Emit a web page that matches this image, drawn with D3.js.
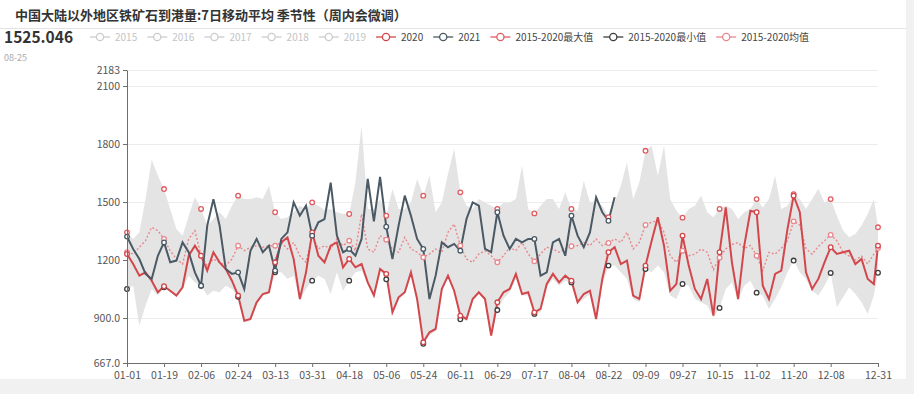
<!DOCTYPE html>
<html><head><meta charset="utf-8">
<script src="https://cdn.jsdelivr.net/npm/d3@7"></script>
<style>
body{margin:0;background:#f1f1f1;}
svg{display:block;font-family:"Noto Sans CJK SC","Noto Sans",sans-serif;}
</style></head><body>
<svg id="c" width="914" height="394"></svg>
<script>
// ---------- data ----------
const sampleDays = d3.range(0, 364, 3).concat([365]);
const tickDays = d3.range(0, 343, 18).concat([365]);
const tickLabels = ["01-01","01-19","02-06","02-24","03-13","03-31","04-18","05-06","05-24","06-11","06-29","07-17","08-04","08-22","09-09","09-27","10-15","11-02","11-20","12-08","12-31"];
const yTickValues = [667, 900, 1200, 1500, 1800, 2100, 2183];
const yTickLabels = ["667.0","900.0","1200","1500","1800","2100","2183"];

const seriesMax = [
 1343,1309,1343,1515,1720,1636,1567,1464,1360,1326,1429,1524,1464,1378,1412,1447,1412,1481,1533,1515,1515,1524,1515,1584,1447,1412,1421,1447,1481,1464,1498,
 1481,1459,1464,1447,1438,1438,1602,1895,1464,1464,1515,1429,1567,1464,1464,1498,1619,1533,1636,1447,1498,1645,1774,1550,1481,1464,1515,1498,1481,1464,
 1498,1498,1515,1688,1464,1441,1481,1515,1515,1464,1550,1464,1455,1610,1498,1507,1481,1421,1498,1584,1705,1515,1602,1765,1791,1636,1791,1515,1455,1419,1464,
 1481,1533,1447,1421,1464,1481,1464,1412,1447,1464,1515,1472,1515,1636,1464,1481,1541,1515,1464,1515,1569,1498,1515,1429,1352,1317,1334,1378,1438,1515,
 1369];
const seriesMin = [
 1050,1067,860,964,1050,1016,1059,1033,1010,1050,1119,1084,1067,1016,1041,1033,1067,1050,1010,877,886,972,1016,1024,1136,1136,1102,1119,990,1050,1093,
 1119,1102,1024,1136,1041,1093,1136,1145,1076,1010,1145,1100,921,998,1024,1128,990,766,809,834,1041,1110,1033,893,886,990,1024,990,800,941,
 998,1033,1102,1016,1016,921,929,1059,1102,1067,1093,1084,972,998,1024,886,1067,1171,1171,1136,1102,998,981,1153,1136,1171,1136,1016,998,1076,1067,
 998,981,964,903,952,1050,1084,990,1067,1093,1031,1016,947,998,1059,1136,1197,1136,1102,1041,1016,1067,1133,955,1007,1059,1024,981,921,1016,
 1134];
const seriesMean = [
 1240,1231,1266,1300,1369,1352,1309,1248,1205,1179,1309,1352,1222,1171,1205,1188,1171,1205,1274,1248,1266,1274,1266,1274,1274,1291,1257,1291,1222,1188,1326,
 1257,1274,1257,1309,1274,1300,1248,1438,1257,1240,1326,1305,1257,1240,1317,1257,1240,1214,1231,1257,1240,1343,1386,1274,1205,1188,1231,1248,1222,1188,
 1222,1266,1248,1291,1231,1193,1231,1266,1257,1240,1257,1271,1274,1291,1274,1309,1274,1288,1309,1291,1343,1257,1291,1381,1395,1403,1343,1222,1188,1248,1222,
 1230,1257,1240,1150,1212,1257,1280,1290,1260,1275,1222,1145,1240,1230,1260,1300,1400,1380,1260,1230,1270,1300,1330,1300,1240,1220,1200,1220,1180,1230,
 1262];
const series2020 = [
 1231,1179,1119,1136,1093,1033,1064,1041,1016,1059,1222,1274,1222,1145,1240,1188,1153,1093,1016,886,895,981,1024,1033,1188,1291,1317,1205,998,1136,1343,
 1222,1188,1274,1291,1162,1205,1162,1179,1084,1016,1153,1128,929,1007,1033,1136,998,774,826,843,1050,1119,1041,912,895,998,1033,998,809,981,
 1033,1050,1128,1024,1033,929,947,1076,1128,1084,1119,1093,981,1024,1041,895,1102,1240,1266,1179,1197,1016,998,1171,1300,1421,1274,1041,1076,1326,1171,
 1050,998,1102,912,1240,1472,1188,998,1274,1455,1447,1067,998,1128,1145,1360,1533,1447,1136,1050,1102,1188,1266,1231,1240,1248,1179,1205,1102,1076,
 1274];
const series2021 = [
 1321,1257,1205,1128,1102,1222,1291,1188,1197,1291,1240,1136,1067,1378,1515,1378,1153,1128,1136,1050,1248,1309,1240,1274,1145,1309,1343,1498,1429,1481,1326,
 1395,1412,1600,1326,1240,1257,1222,1309,1620,1400,1630,1372,1205,1378,1533,1429,1309,1257,998,1119,1291,1266,1283,1248,1412,1498,1481,1257,1240,1447,
 1326,1257,1309,1291,1309,1309,1119,1136,1291,1309,1222,1429,1326,1266,1343,1524,1447,1403,1525.046];

const titleText = "中国大陆以外地区铁矿石到港量:7日移动平均 季节性（周内会微调）";
const latestValue = "1525.046";
const latestDate = "08-25";
const legendNames = ["2015","2016","2017","2018","2019","2020","2021","2015-2020最大值","2015-2020最小值","2015-2020均值"];

// ---------- styles ----------
const C = {red:"#d2474c", dark:"#4a5964", maxC:"#e25c61", minC:"#3d3d3d", mean:"#e9878c", band:"#e4e4e4", off:"#cccccc"};
const legendColors = [C.off,C.off,C.off,C.off,C.off,C.red,C.dark,C.maxC,C.minC,C.mean];
const legendActive = [false,false,false,false,false,true,true,true,true,true];

const svg = d3.select("#c");
svg.append("rect").attr("width",906).attr("height",379).attr("fill","#fff");

const x = d3.scaleLinear().domain([0,365]).range([127,878]);
const y = d3.scaleLinear().domain([667,2183]).range([363,70]);

// title
svg.append("text").attr("x",15).attr("y",20).attr("font-size",13).attr("font-weight","bold").attr("fill","#333").text(titleText);
svg.append("line").attr("x1",0).attr("x2",906).attr("y1",28.5).attr("y2",28.5).attr("stroke","#e3e3e3");
svg.append("text").attr("x",4).attr("y",43).attr("font-size",15.5).attr("font-weight","bold").attr("fill","#333").text(latestValue);
svg.append("text").attr("x",4).attr("y",61).attr("font-size",9).attr("fill","#aaa").text(latestDate);

// legend
let lx = 90;
const ly = 37;
legendNames.forEach((n,i)=>{
  const g = svg.append("g");
  const col = legendColors[i];
  g.append("line").attr("x1",lx).attr("x2",lx+20).attr("y1",ly).attr("y2",ly).attr("stroke",col).attr("stroke-width",1.3);
  g.append("circle").attr("cx",lx+10).attr("cy",ly).attr("r",3.6).attr("fill","#fff").attr("stroke",col).attr("stroke-width",1.3);
  const t = g.append("text").attr("x",lx+25).attr("y",ly+3.6).attr("font-size",10)
    .attr("fill",legendActive[i]?"#444":"#c4c4c4").text(n);
  const w = t.node().getComputedTextLength();
  lx += 25 + w + 10;
});

// grid
svg.append("g").selectAll("line").data(yTickValues).join("line")
  .attr("x1",127).attr("x2",878).attr("y1",d=>Math.round(y(d))+0.5).attr("y2",d=>Math.round(y(d))+0.5)
  .attr("stroke","#ececec");

// band
const band = d3.area().x((d,i)=>x(sampleDays[i])).y0((d,i)=>y(seriesMin[i])).y1(d=>y(d));
svg.append("path").datum(seriesMax).attr("d",band).attr("fill",C.band);

const line = d3.line().x((d,i)=>x(sampleDays[i])).y(d=>y(d));
svg.append("path").datum(seriesMean).attr("d",line).attr("fill","none").attr("stroke",C.mean).attr("stroke-width",1.4).attr("stroke-dasharray","2,2");
svg.append("path").datum(series2020).attr("d",line).attr("fill","none").attr("stroke",C.red).attr("stroke-width",2);
svg.append("path").datum(series2021).attr("d",line).attr("fill","none").attr("stroke",C.dark).attr("stroke-width",2);

// markers
function markers(arr,col){
  const pts = arr.map((v,i)=>({v,i})).filter(p=>tickDays.includes(sampleDays[p.i]));
  svg.append("g").selectAll("circle").data(pts).join("circle")
    .attr("cx",p=>x(sampleDays[p.i])).attr("cy",p=>y(p.v)).attr("r",2.3)
    .attr("fill","#fff").attr("stroke",col).attr("stroke-width",1.3);
}
markers(seriesMax,C.maxC);
markers(seriesMin,C.minC);
markers(seriesMean,C.mean);
markers(series2020,C.red);
markers(series2021,C.dark);

// axes
const ya = svg.append("g").attr("transform","translate(127,0)")
  .call(d3.axisLeft(y).tickValues(yTickValues).tickFormat((d,i)=>yTickLabels[i]).tickSize(4).tickSizeOuter(0));
const xa = svg.append("g").attr("transform","translate(0,363)")
  .call(d3.axisBottom(x).tickValues(tickDays).tickFormat((d,i)=>tickLabels[i]).tickSize(4).tickSizeOuter(0));
[ya,xa].forEach(a=>{
  a.select(".domain").attr("stroke","#6e6e6e");
  a.selectAll(".tick line").attr("stroke","#6e6e6e");
  a.selectAll(".tick text").attr("fill","#555").attr("font-size",10.5).attr("font-family","'Noto Sans CJK SC','Noto Sans',sans-serif");
});
xa.selectAll(".tick text").attr("dy","0.9em");
</script></body></html>
